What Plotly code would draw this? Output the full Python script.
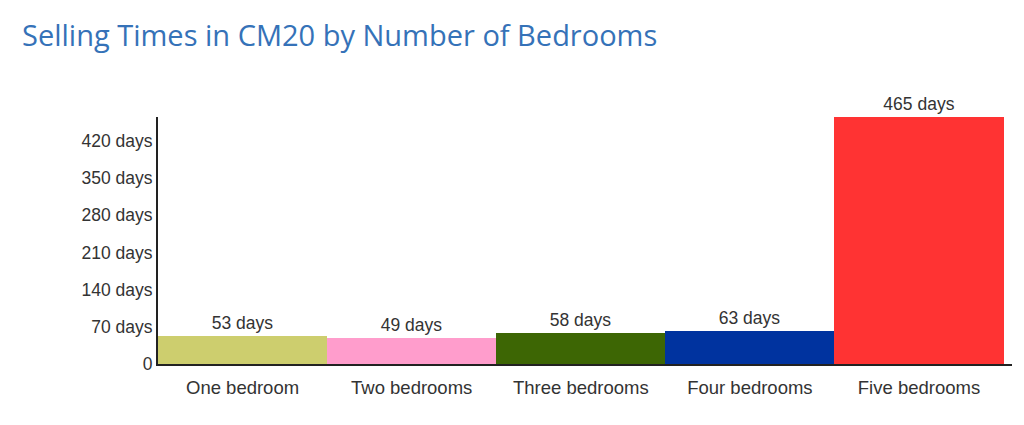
import plotly.graph_objects as go

# 침실 수별 판매 기간 (CM20)
categories = ['One bedroom', 'Two bedrooms', 'Three bedrooms', 'Four bedrooms', 'Five bedrooms']
days = [53, 49, 58, 63, 465]
bar_colors = ['#cdce6e', '#ff9dcc', '#3d6604', '#00339f', '#ff3333']
tick_vals = [0, 70, 140, 210, 280, 350, 420]
tick_text = ['0', '70 days', '140 days', '210 days', '280 days', '350 days', '420 days']

fig = go.Figure(go.Bar(
    x=categories,
    y=days,
    marker=dict(color=bar_colors, line=dict(width=0)),
    text=[f'{d} days' for d in days],
    textposition='outside',
    textfont=dict(family='Liberation Sans, Arial', size=17.5, color='#333333'),
    cliponaxis=False,
))

# 레이아웃 (페이지 여백 8px 고려)
fig.update_layout(
    title=dict(
        text='Selling Times in CM20 by Number of Bedrooms',
        x=0.0137, xanchor='left', y=0.934, yanchor='middle',
        font=dict(family='Open Sans', size=29, color='#3572b8'),
    ),
    width=1024, height=425,
    margin=dict(l=150, r=20, t=109, b=69),
    plot_bgcolor='white', paper_bgcolor='white',
    bargap=0,
    showlegend=False,
)
fig.update_xaxes(
    range=[-0.5, 4.55],
    showline=True, linecolor='#222222', linewidth=2,
    showgrid=False, ticks='', ticklabelstandoff=6,
    tickfont=dict(family='Liberation Sans, Arial', size=18.5, color='#333333'),
)
fig.update_yaxes(
    range=[0, 465],
    tickvals=tick_vals, ticktext=tick_text,
    showline=True, linecolor='#222222', linewidth=2,
    showgrid=False, zeroline=False, ticks='',
    tickfont=dict(family='Liberation Sans, Arial', size=17.5, color='#333333'),
)

fig.write_html('out.html')
